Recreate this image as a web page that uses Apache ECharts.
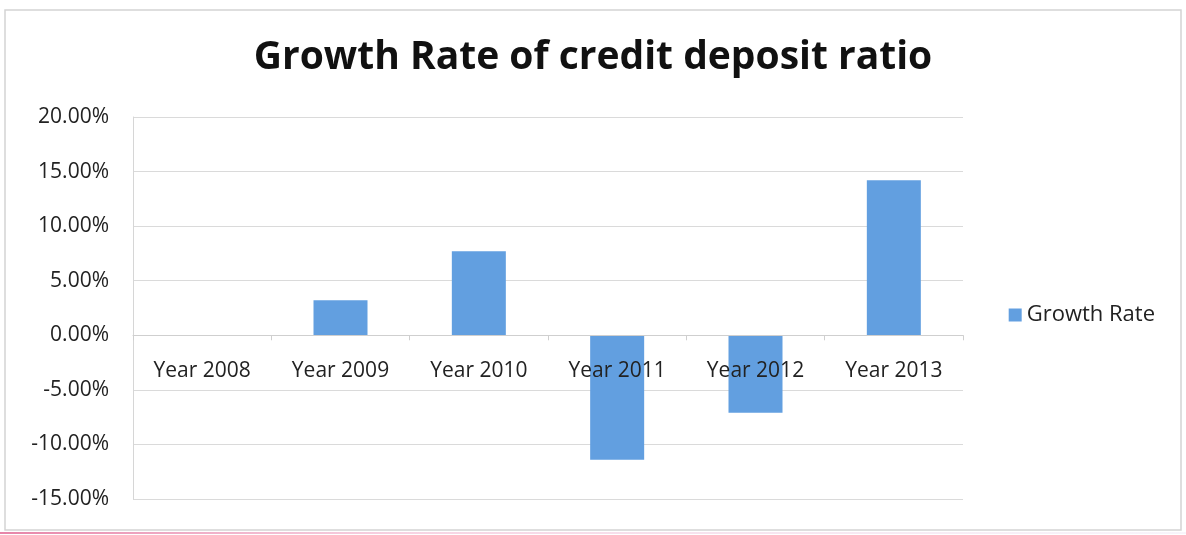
<!DOCTYPE html>
<html>
<head>
<meta charset="utf-8">
<script src="https://cdn.jsdelivr.net/npm/echarts@6/dist/echarts.min.js"></script>
<style>
  html, body { margin: 0; padding: 0; background: #fff; }
  #chart { width: 1186px; height: 535px; }
</style>
</head>
<body>
<div id="chart"></div>
<script>
// Year-on-year growth of the credit deposit ratio (percent)
const categories = ['Year 2008', 'Year 2009', 'Year 2010', 'Year 2011', 'Year 2012', 'Year 2013'];
const growthRate = [0, 3.2, 7.7, -11.4, -7.1, 14.2];
const seriesName = 'Growth Rate';
const titleText = 'Growth Rate of credit deposit ratio';

const yMin = -15, yMax = 20, yStep = 5;
const gridBox = { left: 133, right: 223, top: 117, bottom: 36 };

const chart = echarts.init(document.getElementById('chart'));
const font = '"Open Sans", Lato, sans-serif';

// Category axis sits on the zero line, so shift it up from the grid bottom
const plotHeight = 535 - gridBox.top - gridBox.bottom;
const zeroOffset = -plotHeight * (0 - yMin) / (yMax - yMin);

chart.setOption({
  animation: false,
  backgroundColor: '#fff',
  title: {
    text: titleText,
    left: 'center',
    top: 33,
    textStyle: { fontFamily: font, fontWeight: 'bold', fontSize: 39, color: '#111' }
  },
  legend: {
    data: [seriesName],
    right: 26,
    top: 299,
    icon: 'rect',
    itemWidth: 13,
    itemHeight: 13,
    itemGap: 8,
    textStyle: { fontFamily: font, fontSize: 22, color: '#222' }
  },
  grid: Object.assign({ outerBoundsMode: 'none', containLabel: false }, gridBox),
  xAxis: {
    type: 'category',
    data: categories,
    position: 'bottom',
    offset: zeroOffset,
    z: 5,
    axisLine: { onZero: false, lineStyle: { color: '#cfcfcf', width: 1 } },
    axisTick: { show: true, length: 5, lineStyle: { color: '#cfcfcf' } },
    axisLabel: { margin: 25, fontFamily: font, fontSize: 21, color: '#222' },
    splitLine: { show: false }
  },
  yAxis: {
    type: 'value',
    min: yMin,
    max: yMax,
    interval: yStep,
    axisLine: { show: true, lineStyle: { color: '#d6d6d6' } },
    axisTick: { show: false },
    axisLabel: {
      margin: 24,
      fontFamily: font,
      fontSize: 21,
      color: '#222',
      formatter: v => v.toFixed(2) + '%'
    },
    splitLine: { lineStyle: { color: '#dadada', width: 1 } }
  },
  graphic: [{
    type: 'rect',
    shape: { x: 5, y: 10, width: 1176, height: 520 },
    style: { fill: 'none', stroke: '#d4d4d4', lineWidth: 1.5 },
    silent: true
  }, {
    type: 'line',
    shape: { x1: 0, y1: 533, x2: 1186, y2: 533 },
    style: {
      stroke: new echarts.graphic.LinearGradient(0, 0, 1, 0, [
        { offset: 0, color: 'rgba(220,80,130,0.7)' },
        { offset: 0.35, color: 'rgba(240,170,200,0.5)' },
        { offset: 1, color: 'rgba(230,220,240,0.3)' }
      ]),
      lineWidth: 2
    },
    silent: true
  }],
  series: [{
    name: seriesName,
    type: 'bar',
    data: growthRate,
    barWidth: 54,
    itemStyle: { color: '#629fe0' }
  }]
});
</script>
</body>
</html>
